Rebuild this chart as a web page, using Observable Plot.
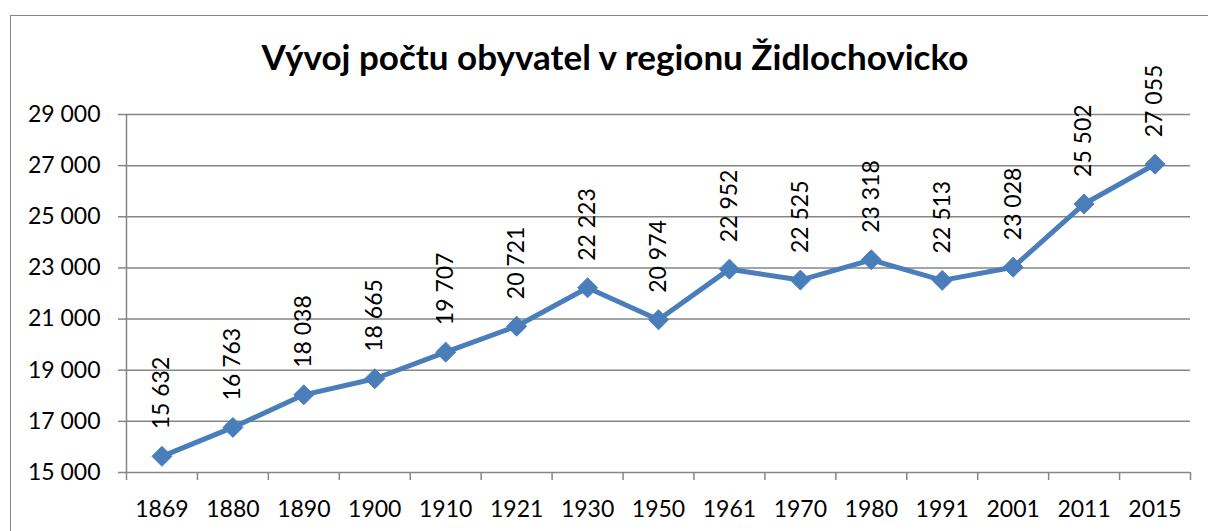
<!DOCTYPE html>
<html>
<head>
<meta charset="utf-8">
<script src="https://cdn.jsdelivr.net/npm/d3@7"></script>
<script src="https://cdn.jsdelivr.net/npm/@observablehq/plot@0.6"></script>
<style>
  html, body { margin: 0; padding: 0; background: #fff; overflow: hidden; }
  #wrap { position: relative; width: 1208px; height: 531px; overflow: hidden; }
  #frame { position: absolute; left: 10px; top: 15px; width: 1400px; height: 700px; border: 1.5px solid #868686; box-sizing: border-box; }
  #title { position: absolute; left: 0; width: 1230px; top: 35px; text-align: center; font-family: Lato, sans-serif; font-weight: bold; font-size: 35px; color: #000; }
  #chart { position: absolute; left: 0; top: 0; }
</style>
</head>
<body>
<div id="wrap">
  <div id="frame"></div>
  <div id="title">Vývoj počtu obyvatel v regionu Židlochovicko</div>
  <div id="chart"></div>
</div>
<script>
const years = ["1869","1880","1890","1900","1910","1921","1930","1950","1961","1970","1980","1991","2001","2011","2015"];
const population = [15632,16763,18038,18665,19707,20721,22223,20974,22952,22525,23318,22513,23028,25502,27055];
const yTicks = [15000,17000,19000,21000,23000,25000,27000,29000];

const data = years.map((year, i) => ({i, year, value: population[i]}));
const fmt = d => d3.format(",")(d).replace(/,/g, " ");
const gray = "#868686";
const blue = "#4A7EBB";

const chart = Plot.plot({
  width: 1208,
  height: 531,
  marginLeft: 126,
  marginRight: 18,
  marginTop: 114,
  marginBottom: 59,
  style: {fontFamily: "Lato, sans-serif", fontSize: "23px", color: "#000", background: "transparent"},
  x: {type: "linear", domain: [-0.5, years.length - 0.5], label: null},
  y: {domain: [15000, 29000], label: null},
  marks: [
    Plot.gridY(yTicks, {stroke: gray, strokeOpacity: 1, strokeWidth: 1.5, x1: -0.5, x2: years.length - 0.5}),
    Plot.axisY(yTicks, {tickSize: 8, tickPadding: 18, tickFormat: fmt, stroke: gray, strokeWidth: 1.5, fontSize: 23, fill: "#000", label: null}),
    Plot.ruleX([-0.5], {y1: 15000, y2: 29000, stroke: gray, strokeWidth: 1.5}),
    Plot.axisX(d3.range(-0.5, years.length, 1), {tickSize: 8, tickFormat: () => "", stroke: gray, strokeWidth: 1.5, label: null}),
    Plot.axisX(d3.range(years.length), {tickSize: 0, tickPadding: 28, tickFormat: i => years[i], fontSize: 23, fill: "#000", label: null}),
    Plot.line(data, {x: "i", y: "value", stroke: blue, strokeWidth: 5}),
    Plot.dot(data, {x: "i", y: "value", symbol: "diamond2", r: 9, fill: blue, stroke: blue, strokeWidth: 1}),
    Plot.text(data, {x: "i", y: "value", text: d => fmt(d.value), rotate: -90, textAnchor: "start", lineAnchor: "middle", dy: -27, fontSize: 23, fill: "#000"})
  ]
});
document.getElementById("chart").appendChild(chart);
</script>
</body>
</html>
